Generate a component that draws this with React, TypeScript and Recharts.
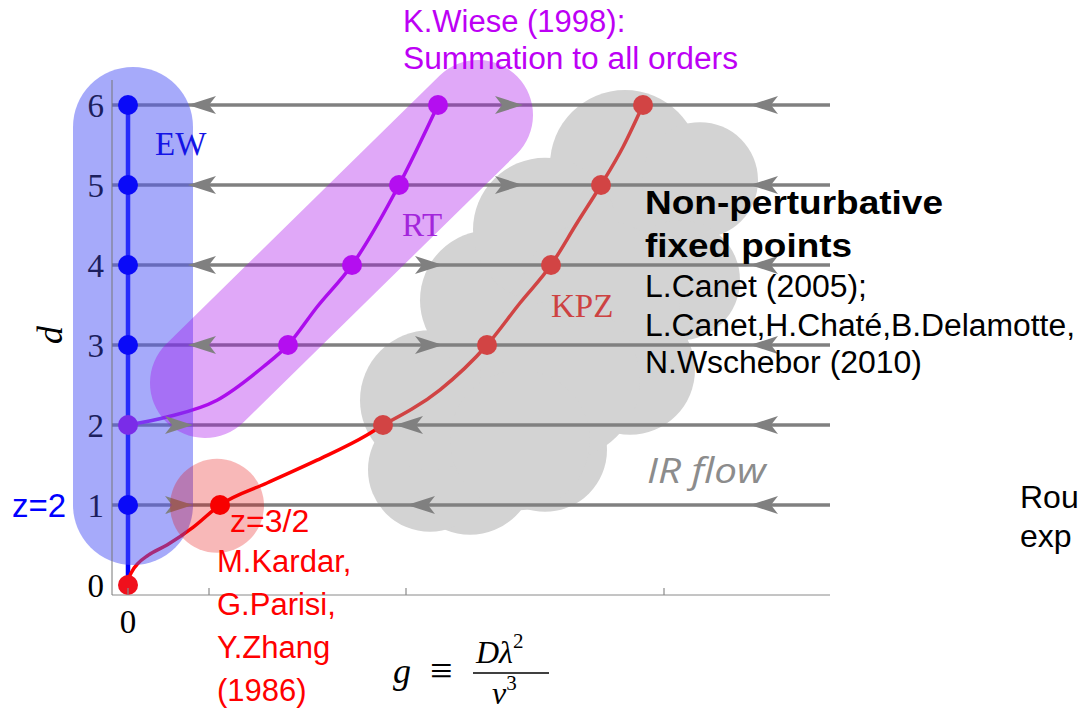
import React from "react";
import { ComposedChart, Line, Scatter, XAxis, YAxis } from "recharts";

const W = 1078;
const H = 710;

// g (coupling) and d (dimension) coordinates
const xTicks = [0, 0.81, 2.78, 5.36];
const yTicks = [0, 1, 2, 3, 4, 5, 6];
const flowRows = [1, 2, 3, 4, 5, 6];
const gMin = -0.16;
const gMax = 7.02;

const ewLine = [
  { g: 0, d: 0 },
  { g: 0, d: 6 },
];
const ewFixed = [
  { g: 0, d: 1 },
  { g: 0, d: 3 },
  { g: 0, d: 4 },
  { g: 0, d: 5 },
  { g: 0, d: 6 },
];
const rtFixed = [
  { g: 0, d: 2 },
  { g: 1.6, d: 3 },
  { g: 2.24, d: 4 },
  { g: 2.71, d: 5 },
  { g: 3.1, d: 6 },
];
const rtCurve = [
  { g: 0, d: 2 },
  { g: 0.39, d: 2.1 },
  { g: 0.89, d: 2.31 },
  { g: 1.35, d: 2.725 },
  { g: 1.6, d: 3 },
  { g: 1.89, d: 3.475 },
  { g: 2.24, d: 4 },
  { g: 2.71, d: 5 },
  { g: 3.1, d: 6 },
];
const kpzFixedLow = [
  { g: 0, d: 0 },
  { g: 0.92, d: 1 },
];
const kpzFixedHigh = [
  { g: 2.55, d: 2 },
  { g: 3.59, d: 3 },
  { g: 4.23, d: 4 },
  { g: 4.73, d: 5 },
  { g: 5.15, d: 6 },
];
const kpzCurveLow = [
  { g: 0, d: 0 },
  { g: 0.01, d: 0.08 },
  { g: 0.04, d: 0.17 },
  { g: 0.1, d: 0.27 },
  { g: 0.2, d: 0.37 },
  { g: 0.39, d: 0.5 },
  { g: 0.65, d: 0.72 },
  { g: 0.92, d: 1 },
  { g: 1.39, d: 1.275 },
  { g: 1.89, d: 1.56 },
  { g: 2.39, d: 1.875 },
  { g: 2.55, d: 2 },
];
const kpzCurveHigh = [
  { g: 2.55, d: 2 },
  { g: 3.12, d: 2.44 },
  { g: 3.59, d: 3 },
  { g: 3.92, d: 3.525 },
  { g: 4.23, d: 4 },
  { g: 4.49, d: 4.525 },
  { g: 4.73, d: 5 },
  { g: 4.95, d: 5.475 },
  { g: 5.15, d: 6 },
];

// arrow tips on the flow lines, dir 1 = pointing right
const flowArrows = [
  { g: 0.6, d: 6, dir: -1 }, { g: 3.95, d: 6, dir: 1 }, { g: 6.22, d: 6, dir: -1 },
  { g: 0.6, d: 5, dir: -1 }, { g: 3.95, d: 5, dir: 1 }, { g: 6.22, d: 5, dir: -1 },
  { g: 0.6, d: 4, dir: -1 }, { g: 3.15, d: 4, dir: 1 }, { g: 6.22, d: 4, dir: -1 },
  { g: 0.6, d: 3, dir: -1 }, { g: 3.15, d: 3, dir: 1 }, { g: 6.22, d: 3, dir: -1 },
  { g: 0.65, d: 2, dir: 1 }, { g: 2.67, d: 2, dir: -1 }, { g: 6.22, d: 2, dir: -1 },
  { g: 0.65, d: 1, dir: 1 }, { g: 2.79, d: 1, dir: -1 }, { g: 6.22, d: 1, dir: -1 },
];

// shaded regions (capsules drawn as thick round-capped segments)
const ewBand = [
  { g: 0.05, d: 1.0 },
  { g: 0.05, d: 5.725 },
];
const rtBand = [
  { g: 0.77, d: 2.525 },
  { g: 3.5, d: 5.875 },
];
const kpzHalo = [{ g: 0.89, d: 0.99 }];

// cloud of the non-perturbative region: bump centres, r in px
const CLOUD = [
  { g: 4.97, d: 5.25, r: 75 },
  { g: 5.72, d: 5.06, r: 58 },
  { g: 5.52, d: 3.81, r: 60 },
  { g: 5.02, d: 2.69, r: 65 },
  { g: 3.42, d: 1.44, r: 65 },
  { g: 4.17, d: 1.69, r: 62 },
  { g: 3.02, d: 1.44, r: 62 },
  { g: 3.02, d: 2.31, r: 70 },
  { g: 3.62, d: 3.56, r: 70 },
  { g: 4.17, d: 4.44, r: 72 },
  { g: 4.72, d: 3.56, r: 80 },
  { g: 4.32, d: 2.56, r: 80 },
  { g: 3.92, d: 1.81, r: 70 },
];

const SERIF = "'Liberation Serif', 'DejaVu Serif', serif";
const SANS = "'Liberation Sans', Arial, sans-serif";
const NAVY = "#1c1f5e";

// points sitting on g = 0 are seen through the blue EW band
const dotShape = (fill: string, inBand?: string) => (p: any) => (
  <circle cx={p.cx} cy={p.cy} r={10} fill={inBand && p.payload.g === 0 ? inBand : fill} />
);

const arrowShape = (p: any) => {
  const s = p.payload.dir;
  const { cx, cy } = p;
  const pts = `${cx},${cy} ${cx - s * 28},${cy - 9} ${cx - s * 21},${cy} ${cx - s * 28},${cy + 9}`;
  return <polygon points={pts} fill="#808080" />;
};

const haloShape = (p: any) => (
  <circle cx={p.cx} cy={p.cy} r={47} fill="#e60000" fillOpacity={0.28} />
);

const XTick = (p: any) => (
  <g>
    <line x1={p.x} y1={p.y} x2={p.x} y2={p.y - 7} stroke="#8a8a8a" strokeWidth={1.2} />
    {p.payload.value === 0 && (
      <text x={p.x} y={p.y + 38} textAnchor="middle" fontFamily={SERIF} fontSize={33} fill="#000">
        0
      </text>
    )}
  </g>
);

const YTick = (p: any) => (
  <text
    x={p.x}
    y={p.y}
    dy="0.35em"
    textAnchor="end"
    fontFamily={SERIF}
    fontSize={33}
    fill={p.payload.value === 0 ? "#000" : NAVY}
  >
    {p.payload.value}
  </text>
);

export default function App() {
  return (
    <div style={{ position: "absolute", left: 0, top: 0, width: W, height: H, background: "#fff" }}>
      <ComposedChart
        width={W}
        height={H}
        margin={{ top: 80, right: 248, left: 52, bottom: 85 }}
      >
        <XAxis
          type="number"
          dataKey="g"
          domain={[gMin, gMax]}
          ticks={xTicks}
          stroke="#8a8a8a"
          tickSize={0}
          tickMargin={0}
          tick={<XTick />}
          height={30}
        />
        <YAxis
          type="number"
          dataKey="d"
          domain={[-0.125, 6.3125]}
          ticks={yTicks}
          stroke="#777"
          tickSize={0}
          tickMargin={8}
          tick={<YTick />}
          width={60}
        />

        {CLOUD.map((c, i) => (
          <Line
            key={"cloud" + i}
            data={[{ g: c.g, d: c.d }, { g: c.g, d: c.d }]}
            dataKey="d"
            type="linear"
            stroke="#d3d3d3"
            strokeWidth={2 * c.r}
            strokeLinecap="round"
            dot={false}
            activeDot={false}
            isAnimationActive={false}
          />
        ))}

        {flowRows.map((d) => (
          <Line
            key={"flow" + d}
            data={[{ g: gMin, d }, { g: gMax, d }]}
            dataKey="d"
            type="linear"
            stroke="#808080"
            strokeWidth={3.5}
            dot={false}
            activeDot={false}
            isAnimationActive={false}
          />
        ))}

        <Line data={ewLine} dataKey="d" type="linear" stroke="#0000ff" strokeWidth={4.5} dot={false} activeDot={false} isAnimationActive={false} />
        <Line data={rtCurve} dataKey="d" type="monotone" stroke="#b012ee" strokeWidth={3.5} dot={false} activeDot={false} isAnimationActive={false} />
        <Line data={kpzCurveLow} dataKey="d" type="monotone" stroke="#ff0000" strokeWidth={3.5} dot={false} activeDot={false} isAnimationActive={false} />
        <Line data={kpzCurveHigh} dataKey="d" type="monotone" stroke="#d04444" strokeWidth={3.5} dot={false} activeDot={false} isAnimationActive={false} />

        <Line data={ewBand} dataKey="d" type="linear" stroke="#4d55f5" strokeOpacity={0.5} strokeWidth={120} strokeLinecap="round" dot={false} activeDot={false} isAnimationActive={false} />
        <Line data={rtBand} dataKey="d" type="linear" stroke="#a606eb" strokeOpacity={0.35} strokeWidth={110} strokeLinecap="round" dot={false} activeDot={false} isAnimationActive={false} />

        <Scatter data={flowArrows} shape={arrowShape} isAnimationActive={false} />
        <Scatter data={ewFixed} shape={dotShape("#0a0af8")} isAnimationActive={false} />
        <Scatter data={rtFixed} shape={dotShape("#b40ef0", "#7a2ce8")} isAnimationActive={false} />
        <Scatter data={kpzFixedLow} shape={dotShape("#ff0000", "#f0101c")} isAnimationActive={false} />
        <Scatter data={kpzFixedHigh} shape={dotShape("#d24444")} isAnimationActive={false} />
        <Scatter data={kpzHalo} shape={haloShape} isAnimationActive={false} />
      </ComposedChart>

      <svg
        width={W}
        height={H}
        style={{ position: "absolute", left: 0, top: 0, pointerEvents: "none" }}
      >
        <g fontFamily={SERIF} fontSize={33}>
          <text x={155} y={155} fill="#1414e6">EW</text>
          <text x={402} y={236} fill="#a326db">RT</text>
          <text x={551} y={317} fill="#cd4242">KPZ</text>
          <text transform="translate(62,335) rotate(-90)" textAnchor="middle" fontStyle="italic" fontSize={36} fill="#000">d</text>
        </g>

        <g fontFamily={SANS} fill="#bd00f5" fontSize={31}>
          <text x={403} y={32}>K.Wiese (1998):</text>
          <text x={403} y={69} textLength={335} lengthAdjust="spacingAndGlyphs">Summation to all orders</text>
        </g>

        <g fontFamily={SANS} fill="#000">
          <text x={645} y={214} fontSize={33} fontWeight="bold" textLength={298} lengthAdjust="spacingAndGlyphs">Non-perturbative</text>
          <text x={645} y={257} fontSize={33} fontWeight="bold" textLength={207} lengthAdjust="spacingAndGlyphs">fixed points</text>
          <text x={645} y={297} fontSize={31} textLength={222} lengthAdjust="spacingAndGlyphs">L.Canet (2005);</text>
          <text x={645} y={336} fontSize={31} textLength={430} lengthAdjust="spacingAndGlyphs">L.Canet,H.Chaté,B.Delamotte,</text>
          <text x={645} y={373} fontSize={31} textLength={277} lengthAdjust="spacingAndGlyphs">N.Wschebor (2010)</text>
          <text x={1020} y={508} fontSize={32}>Rou</text>
          <text x={1020} y={547} fontSize={32}>exp</text>
        </g>

        <text x={647} y={483} fontFamily="'Open Sans', sans-serif" fontStyle="italic" fontSize={35} fill="#8c8c8c" textLength={119} lengthAdjust="spacingAndGlyphs">
          IR flow
        </text>

        <text x={12} y={517} fontFamily={SANS} fontSize={33} fill="#0000ff">z=2</text>
        <g fontFamily={SANS} fill="#ff0000">
          <text x={230} y={532} fontSize={32}>z=3/2</text>
          <text x={217} y={572} fontSize={31}>M.Kardar,</text>
          <text x={217} y={615} fontSize={31}>G.Parisi,</text>
          <text x={217} y={658} fontSize={31}>Y.Zhang</text>
          <text x={217} y={701} fontSize={31}>(1986)</text>
        </g>

        <g fontFamily={SERIF} fill="#000">
          <text x={393} y={683} fontSize={36} fontStyle="italic">g</text>
          <text x={430} y={684} fontSize={40}>≡</text>
          <text x={476} y={663} fontSize={32} fontStyle="italic">
            Dλ<tspan dy={-15} fontSize={21} fontStyle="normal">2</tspan>
          </text>
          <line x1={473} y1={673} x2={549} y2={673} stroke="#000" strokeWidth={1.5} />
          <text x={492} y={704} fontSize={32} fontStyle="italic">
            ν<tspan dy={-14} fontSize={21} fontStyle="normal">3</tspan>
          </text>
        </g>
      </svg>
    </div>
  );
}
